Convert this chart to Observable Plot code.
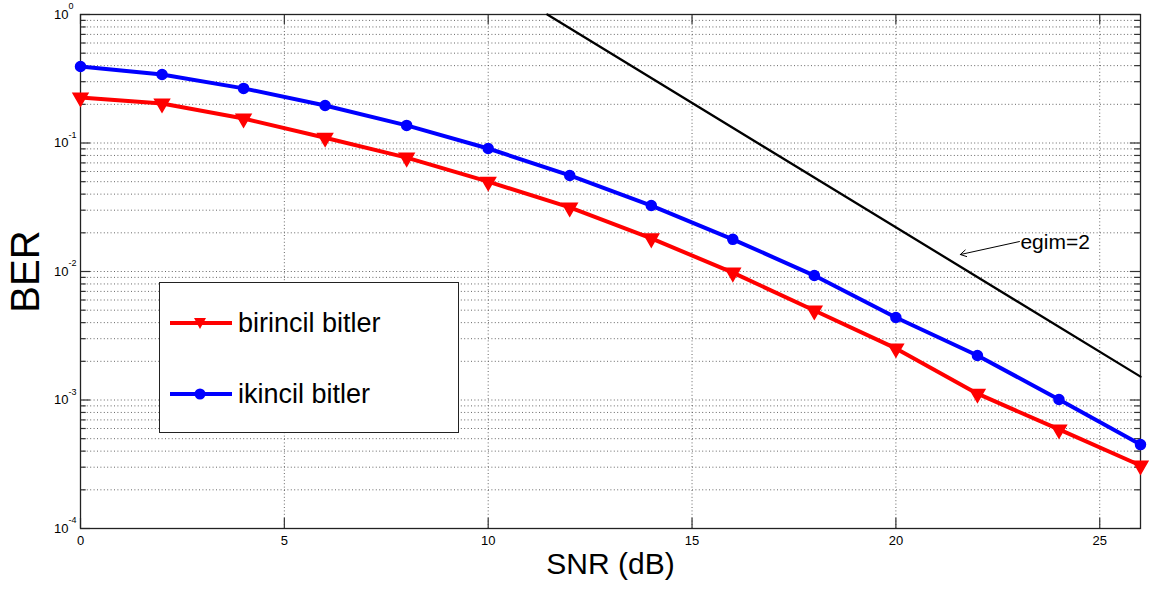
<!DOCTYPE html>
<html><head><meta charset="utf-8">
<script src="https://cdn.jsdelivr.net/npm/d3@7"></script>
<script src="https://cdn.jsdelivr.net/npm/@observablehq/plot@0.6"></script>
<style>
body{margin:0;background:#fff;font-family:"Liberation Sans",Arial,sans-serif;}
#wrap{position:relative;width:1149px;height:591px;}
#legend{position:absolute;left:159px;top:282px;width:300px;height:151px;border:1px solid #222;background:#fff;box-sizing:border-box;}
.row{position:absolute;left:10px;height:30px;display:flex;align-items:center;font-size:27px;color:#000;}
.row svg{margin-right:6px;}
</style>
</head><body>
<div id="wrap"></div>
<script>
// ---- data ----
const snr = [0, 2, 4, 6, 8, 10, 12, 14, 16, 18, 20, 22, 24, 26];
const berPrimary = [0.226, 0.203, 0.155, 0.110, 0.077, 0.050, 0.0315, 0.0181, 0.0098, 0.00497, 0.00252, 0.00112, 0.00059, 0.000309];
const berSecondary = [0.394, 0.341, 0.266, 0.196, 0.137, 0.0906, 0.0559, 0.0326, 0.0178, 0.0093, 0.00439, 0.00222, 0.00101, 0.00045];
const slopeSnr = [11.45, 26];
const slopeBer = [1, 0.00152];
const xTicks = [0, 5, 10, 15, 20, 25];
const yTickExp = [0, -1, -2, -3, -4];
const minorMult = [2, 3, 4, 5, 6, 7, 8, 9];
const seriesNames = ["birincil bitler", "ikincil bitler"];
const annotation = {text: "egim=2", x1: 23.03, y1: 0.0171, x2: 21.58, y2: 0.01355};

// derived tables
const majorY = yTickExp.map(e => Math.pow(10, e));
const minorY = [];
for (const e of yTickExp.slice(1)) for (const m of minorMult) minorY.push(m * Math.pow(10, e));
const gridY = majorY.concat(minorY);
const primary = snr.map((s, i) => ({snr: s, ber: berPrimary[i]}));
const secondary = snr.map((s, i) => ({snr: s, ber: berSecondary[i]}));
const slope = slopeSnr.map((s, i) => ({snr: s, ber: slopeBer[i]}));

const grid = {stroke: "#666", strokeDasharray: "1,2.4", strokeWidth: 1};
const tk = {stroke: "#333", strokeWidth: 1.2};
const font = "Liberation Sans, Arial, sans-serif";

const chart = Plot.plot({
  width: 1149, height: 591,
  marginLeft: 80, marginRight: 9, marginTop: 14, marginBottom: 63,
  style: {fontFamily: font, background: "#fff"},
  x: {domain: [0, 26], axis: null},
  y: {type: "log", domain: [1e-4, 1], axis: null},
  marks: [
    Plot.ruleY(gridY, {y: d => d, ...grid}),
    Plot.ruleX(xTicks, {x: d => d, ...grid}),
    // inner tick marks
    Plot.ruleY(majorY, {y: d => d, x1: () => 0, x2: () => 0.25, ...tk}),
    Plot.ruleY(majorY, {y: d => d, x1: () => 25.75, x2: () => 26, ...tk}),
    Plot.ruleY(minorY, {y: d => d, x1: () => 0, x2: () => 0.14, ...tk}),
    Plot.ruleY(minorY, {y: d => d, x1: () => 25.86, x2: () => 26, ...tk}),
    Plot.ruleX(xTicks, {x: d => d, y1: () => 1e-4, y2: () => 1.2e-4, ...tk}),
    Plot.ruleX(xTicks, {x: d => d, y1: () => 1, y2: () => 0.836, ...tk}),
    Plot.frame({stroke: "#222", strokeWidth: 1.3}),
    // slope reference line
    Plot.line(slope, {x: "snr", y: "ber", stroke: "#000", strokeWidth: 2.3}),
    // series
    Plot.line(primary, {x: "snr", y: "ber", stroke: "#ff0000", strokeWidth: 4}),
    Plot.dot(primary, {x: "snr", y: "ber", symbol: "triangle", rotate: 180, r: 5.5, fill: "#ff0000", stroke: "#ff0000"}),
    Plot.line(secondary, {x: "snr", y: "ber", stroke: "#0000ff", strokeWidth: 4}),
    Plot.dot(secondary, {x: "snr", y: "ber", symbol: "circle", r: 5, fill: "#0000ff", stroke: "#0000ff"}),
    // annotation
    Plot.arrow([annotation], {x1: "x1", y1: "y1", x2: "x2", y2: "y2", stroke: "#000", strokeWidth: 1, headLength: 10}),
    Plot.text([annotation], {x: "x1", y: "y1", text: "text", textAnchor: "start", lineAnchor: "middle", dx: 1, dy: 1, fontSize: 21, fill: "#000"}),
    // y tick labels 10^e
    Plot.text(majorY, {y: d => d, frameAnchor: "left", text: () => "10", textAnchor: "end", lineAnchor: "middle", dx: -12, fontSize: 13, fill: "#000"}),
    Plot.text(majorY, {y: d => d, frameAnchor: "left", text: d => String(Math.round(Math.log10(d))), textAnchor: "start", lineAnchor: "middle", dx: -12, dy: -8, fontSize: 9, fill: "#000"}),
    // x tick labels
    Plot.text(xTicks, {x: d => d, frameAnchor: "bottom", text: d => String(d), textAnchor: "middle", lineAnchor: "middle", dy: 12, fontSize: 13, fill: "#000"}),
    // axis titles
    Plot.text(["SNR (dB)"], {frameAnchor: "bottom", text: d => d, textAnchor: "middle", lineAnchor: "middle", dy: 36, fontSize: 30, fill: "#000"}),
    Plot.text(["BER"], {frameAnchor: "left", text: d => d, textAnchor: "middle", lineAnchor: "middle", dx: -54, rotate: -90, fontSize: 40, fill: "#000"})
  ]
});

const wrap = document.getElementById("wrap");
wrap.appendChild(chart);

// legend
const legend = document.createElement("div");
legend.id = "legend";
const colors = ["#ff0000", "#0000ff"];
const tops = [25, 96];
seriesNames.forEach((name, i) => {
  const row = document.createElement("div");
  row.className = "row";
  row.style.top = tops[i] + "px";
  const sym = i === 0
    ? `<path d="M24,10 L36,10 L30,21 Z" fill="${colors[i]}"/>`
    : `<circle cx="30" cy="15" r="5.5" fill="${colors[i]}"/>`;
  row.innerHTML = `<svg width="62" height="30"><line x1="0" y1="15" x2="62" y2="15" stroke="${colors[i]}" stroke-width="4"/>${sym}</svg><span>${name}</span>`;
  legend.appendChild(row);
});
wrap.appendChild(legend);
</script>
</body></html>
